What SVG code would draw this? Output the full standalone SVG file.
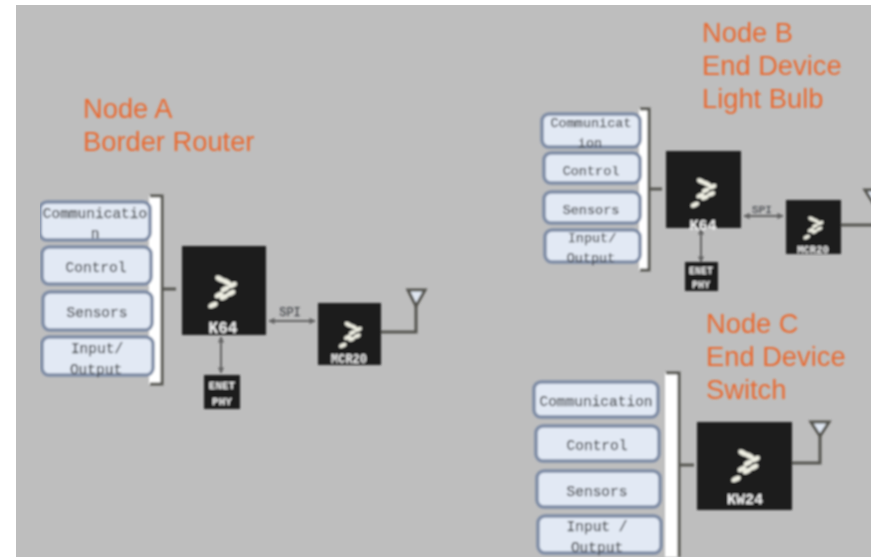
<svg xmlns="http://www.w3.org/2000/svg" width="871" height="557" viewBox="0 0 871 557">
<style>
.bg{fill:#bebebe}
.item{fill:#e2e9f4;stroke:#7f8da6;stroke-width:3.5}
.t{font-family:"Liberation Mono",monospace;fill:#45484d;stroke:#45484d;stroke-width:.25;text-anchor:middle}
.title{font-family:"Liberation Sans",Arial,sans-serif;font-size:27.3px;fill:#e96a32}
.chip{fill:#1b1b1b}
.chipt{font-family:"Liberation Mono",monospace;fill:#f2f2f2;text-anchor:middle;font-weight:bold}
.brk{fill:#fff}
.line{fill:none;stroke:#55544f;stroke-width:3}
.thin{fill:none;stroke:#626262;stroke-width:2;marker-start:url(#arr);marker-end:url(#arr)}
.ant{fill:#dfe6f1;stroke:#55544f;stroke-width:3}
.lg{fill:#eeeee2}
</style>
<defs>
<filter id="soft" x="0" y="0" width="1" height="1"><feGaussianBlur stdDeviation="0.8"/></filter>
<marker id="arr" viewBox="0 0 8 8" refX="7" refY="4" markerWidth="3.2" markerHeight="3.2" orient="auto-start-reverse"><path d="M0 0L8 4L0 8Z" fill="#626262"/></marker>
<g id="logo">
<ellipse class="lg" cx="-2" cy="-13" rx="5" ry="2.6" transform="rotate(28 -2 -13)"/>
<ellipse class="lg" cx="4.5" cy="-10" rx="5" ry="2.6" transform="rotate(28 4.5 -10)"/>
<ellipse class="lg" cx="10.5" cy="-7" rx="4.6" ry="2.6" transform="rotate(-25 10.5 -7)"/>
<ellipse class="lg" cx="3" cy="-3" rx="4.6" ry="2.6" transform="rotate(-25 3 -3)"/>
<ellipse class="lg" cx="9" cy="1" rx="4.6" ry="2.6" transform="rotate(-25 9 1)"/>
<ellipse class="lg" cx="-3" cy="3" rx="4.6" ry="2.6" transform="rotate(-25 -3 3)"/>
<ellipse class="lg" cx="2" cy="5" rx="4.6" ry="2.6" transform="rotate(-25 2 5)"/>
<ellipse class="lg" cx="-9" cy="13" rx="5" ry="2.6" transform="rotate(-25 -9 13)"/>
</g>
</defs>
<rect width="871" height="557" fill="#fff"/>
<rect class="bg" x="16" y="5" width="855" height="552"/>
<g filter="url(#soft)">
<g id="connectors">
<path class="line" d="M163 289H176"/>
<path class="thin" d="M269 321H315"/>
<path class="thin" d="M221 337V373"/>
<path class="line" d="M381 332H416V304"/>
<path class="line" d="M650 189H662"/>
<path class="thin" d="M744 216H783"/>
<path class="thin" d="M701 229V262"/>
<path class="line" d="M841 225H875"/>
<path class="line" d="M680 465H694"/>
<path class="line" d="M792 463H820V434"/>
</g>
<g id="node-a">
<text class="title" x="83" y="118">Node A</text>
<text class="title" x="83" y="151">Border Router</text>
<path class="brk" d="M149 196H162V384H149Z"/>
<path class="line" d="M150 196H162V384H150"/>
<rect class="item" x="40" y="202" width="110" height="38" rx="7"/>
<rect class="item" x="42" y="247" width="109" height="37" rx="7"/>
<rect class="item" x="43" y="292" width="109" height="38" rx="7"/>
<rect class="item" x="42" y="337" width="111" height="38" rx="7"/>
<text class="t" font-size="14.5" x="95" y="218">Communicatio</text>
<text class="t" font-size="14.5" x="95" y="238">n</text>
<text class="t" font-size="14.5" x="96" y="272">Control</text>
<text class="t" font-size="14.5" x="97" y="317">Sensors</text>
<text class="t" font-size="14.5" x="97" y="353">Input/</text>
<text class="t" font-size="14.5" x="96" y="374">Output</text>
<rect class="chip" x="182" y="246" width="84" height="89"/>
<use href="#logo" x="222" y="292"/>
<text class="chipt" font-size="16" x="223" y="333">K64</text>
<text class="t" font-size="12" x="290" y="316">SPI</text>
<rect class="chip" x="318" y="303" width="63" height="62"/>
<use href="#logo" transform="translate(350 335) scale(.8)"/>
<text class="chipt" font-size="12" x="349" y="363">MCR20</text>
<rect class="chip" x="204" y="375" width="36" height="34"/>
<text class="chipt" font-size="11" x="222" y="389">ENET</text>
<text class="chipt" font-size="11" x="222" y="405">PHY</text>
<path class="ant" d="M408 290H425L416 306Z"/>
</g>
<g id="node-b">
<text class="title" x="702" y="42">Node B</text>
<text class="title" x="702" y="75">End Device</text>
<text class="title" x="702" y="108">Light Bulb</text>
<path class="brk" d="M639 109H649V270H639Z"/>
<path class="line" d="M640 109H649V270H640"/>
<rect class="item" x="542" y="114" width="98" height="33" rx="7"/>
<rect class="item" x="544" y="153" width="96" height="30" rx="7"/>
<rect class="item" x="544" y="192" width="96" height="31" rx="7"/>
<rect class="item" x="545" y="230" width="95" height="32" rx="7"/>
<text class="t" font-size="13.5" x="591" y="127">Communicat</text>
<text class="t" font-size="13.5" x="590" y="147">ion</text>
<text class="t" font-size="13.5" x="591" y="175">Control</text>
<text class="t" font-size="13.5" x="591" y="214">Sensors</text>
<text class="t" font-size="13.5" x="592" y="242">Input/</text>
<text class="t" font-size="13.5" x="591" y="262">Output</text>
<rect class="chip" x="666" y="151" width="75" height="77"/>
<use href="#logo" transform="translate(703 193) scale(.9)"/>
<text class="chipt" font-size="15" x="703" y="230">K64</text>
<text class="t" font-size="11" x="762" y="213">SPI</text>
<rect class="chip" x="786" y="200" width="55" height="54"/>
<use href="#logo" transform="translate(813 228) scale(.7)"/>
<text class="chipt" font-size="10.5" x="813" y="253">MCR20</text>
<rect class="chip" x="685" y="262" width="33" height="29"/>
<text class="chipt" font-size="10" x="701" y="274">ENET</text>
<text class="chipt" font-size="10" x="701" y="288">PHY</text>
<path class="ant" d="M865 190H885L875 206Z"/>
</g>
<g id="node-c">
<text class="title" x="706" y="333">Node C</text>
<text class="title" x="706" y="366">End Device</text>
<text class="title" x="706" y="399">Switch</text>
<path class="brk" d="M665 373H679V557H665Z"/>
<path class="line" d="M666 373H679V557"/>
<rect class="item" x="534" y="382" width="124" height="35" rx="7"/>
<rect class="item" x="536" y="426" width="123" height="35" rx="7"/>
<rect class="item" x="537" y="471" width="123" height="36" rx="7"/>
<rect class="item" x="538" y="516" width="123" height="37" rx="7"/>
<text class="t" font-size="14.5" x="596" y="406">Communication</text>
<text class="t" font-size="14.5" x="597" y="450">Control</text>
<text class="t" font-size="14.5" x="597" y="496">Sensors</text>
<text class="t" font-size="14.5" x="597" y="531">Input /</text>
<text class="t" font-size="14.5" x="597" y="552">Output</text>
<rect class="chip" x="697" y="422" width="95" height="88"/>
<use href="#logo" x="745" y="466"/>
<text class="chipt" font-size="15" x="745" y="504">KW24</text>
<path class="ant" d="M811 422H829L820 436Z"/>
</g>
</g>
</svg>
